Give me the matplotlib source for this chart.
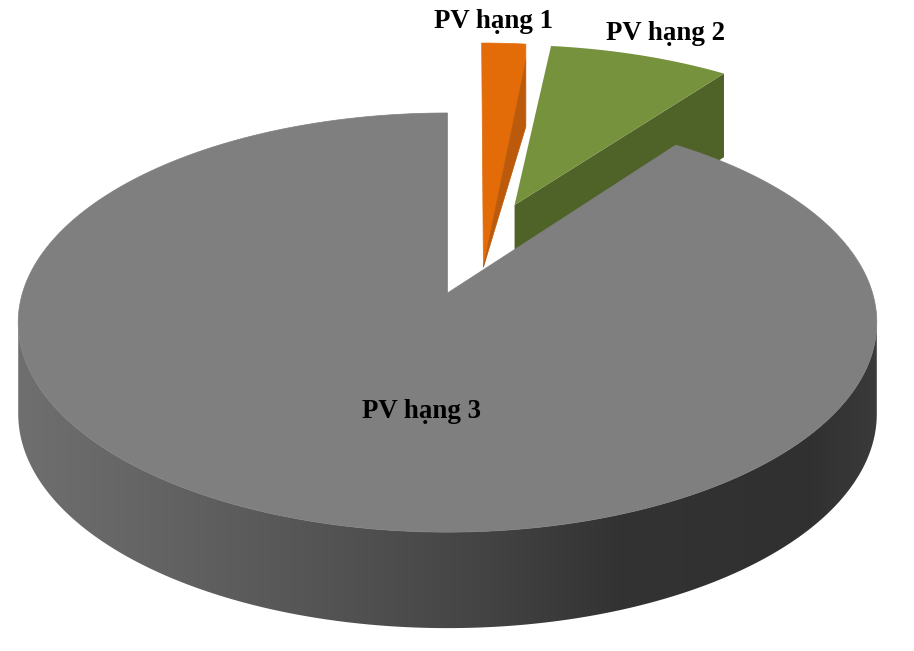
import numpy as np
import matplotlib
matplotlib.use("Agg")
import matplotlib.pyplot as plt
from matplotlib.patches import Polygon
from matplotlib.colors import LinearSegmentedColormap

labels = ["PV hạng 1", "PV hạng 2", "PV hạng 3"]
shares = [2, 8.2, 89.8]
top_colors = ["#E36C09", "#76923C", "#7F7F7F"]
side_colors = ["#BC5A0C", "#4F6228", "#505050"]

# projection of the pie's ground plane to the picture (perspective view)
CX, CY, A, B, P = 447.5, 293.0, 425.0, 205.4, 0.141
DROP_MID, DROP_SLOPE = 90.5, 5.5
# explosion of the two pulled-out slices
OFFSET_2 = (0.168, 0.456)
OFFSET_1_EDGE = (0.097, 0.469)
OFFSET_1_APEX = (0.086, 0.128)


def project(u, v, drop=False):
    u, v = np.asarray(u, float), np.asarray(v, float)
    w = 1 + P * v
    x = CX + A * u / w
    y = CY - B * v / w
    if drop:
        y = y + DROP_MID - DROP_SLOPE * v
    return np.column_stack([x, y])


def arc(t0, t1, off=(0, 0), drop=False, n=200):
    t = np.radians(np.linspace(t0, t1, n))
    return project(np.sin(t) + off[0], np.cos(t) + off[1], drop)


fig = plt.figure(figsize=(9.14, 6.51), dpi=100)
ax = fig.add_axes([0, 0, 1, 1])
ax.set_xlim(0, 914)
ax.set_ylim(651, 0)
ax.axis("off")

edges = np.cumsum([0] + shares) * 3.6
a0, a1, a2, a3 = edges

# --- slice 1 (orange)
outer = arc(a0, a1, OFFSET_1_EDGE)
apex = project([OFFSET_1_APEX[0]], [OFFSET_1_APEX[1]])
corner = outer[-1]
corner_low = project([np.sin(np.radians(a1)) + OFFSET_1_EDGE[0]],
                     [np.cos(np.radians(a1)) + OFFSET_1_EDGE[1]], True)[0]
side_start = corner + 0.2 * (corner_low - corner)
ax.add_patch(Polygon(np.vstack([outer, side_start, apex]), closed=True,
                     fc=top_colors[0], ec=top_colors[0], lw=0.5, zorder=2))
ax.add_patch(Polygon(np.vstack([side_start, apex, corner_low]), closed=True,
                     fc=side_colors[0], ec=side_colors[0], lw=0.5, zorder=3))

# --- slice 2 (green)
outer2 = arc(a1, a2, OFFSET_2)
apex2 = project([OFFSET_2[0]], [OFFSET_2[1]])
apex2_low = project([OFFSET_2[0]], [OFFSET_2[1]], True)
corner2 = outer2[-1]
corner2_low = project([np.sin(np.radians(a2)) + OFFSET_2[0]],
                      [np.cos(np.radians(a2)) + OFFSET_2[1]], True)[0]
ax.add_patch(Polygon(np.vstack([apex2, corner2, corner2_low, apex2_low]), closed=True,
                     fc=side_colors[1], ec="none", zorder=2))
ax.add_patch(Polygon(np.vstack([outer2, apex2]), closed=True, fc=top_colors[1], ec="none", zorder=3))

# --- slice 3 (grey): rim with a horizontal shading gradient, then the top
t = np.radians(np.linspace(a2, a3, 1500))
xs = A * np.sin(t) / (1 + P * np.cos(t))
tr, tl = np.degrees(t[np.argmax(xs)]), np.degrees(t[np.argmin(xs)])
rim = np.vstack([arc(tr, tl, n=400), arc(tr, tl, drop=True, n=400)[::-1]])
rim_patch = Polygon(rim, closed=True, fc="none", ec="none", zorder=4)
ax.add_patch(rim_patch)
shade = LinearSegmentedColormap.from_list(
    "rim",
    [(0.0, "#6F6F6F"), (0.18, "#626262"), (0.38, "#525252"), (0.55, "#434343"),
     (0.70, "#333333"), (0.92, "#303030"), (1.0, "#3A3A3A")],
)
grad = np.linspace(0, 1, 512).reshape(1, -1)
im = ax.imshow(grad, cmap=shade, extent=[rim[:, 0].min(), rim[:, 0].max(), 651, 0],
               aspect="auto", zorder=4)
im.set_clip_path(rim_patch)
ax.set_xlim(0, 914)
ax.set_ylim(651, 0)

face = np.vstack([arc(a2, a3, n=800), project([0], [0])])
ax.add_patch(Polygon(face, closed=True, fc=top_colors[2], ec=top_colors[2], lw=0.5, zorder=5))

# --- labels
label_pos = [(493, 21), (666, 34), (422, 411)]
for name, (x, y) in zip(labels, label_pos):
    ax.text(x, y, name, family="Liberation Serif", fontweight="bold", fontsize=19.4,
            color="black", ha="center", va="center", zorder=6)

fig.savefig("out.png", dpi=100)
